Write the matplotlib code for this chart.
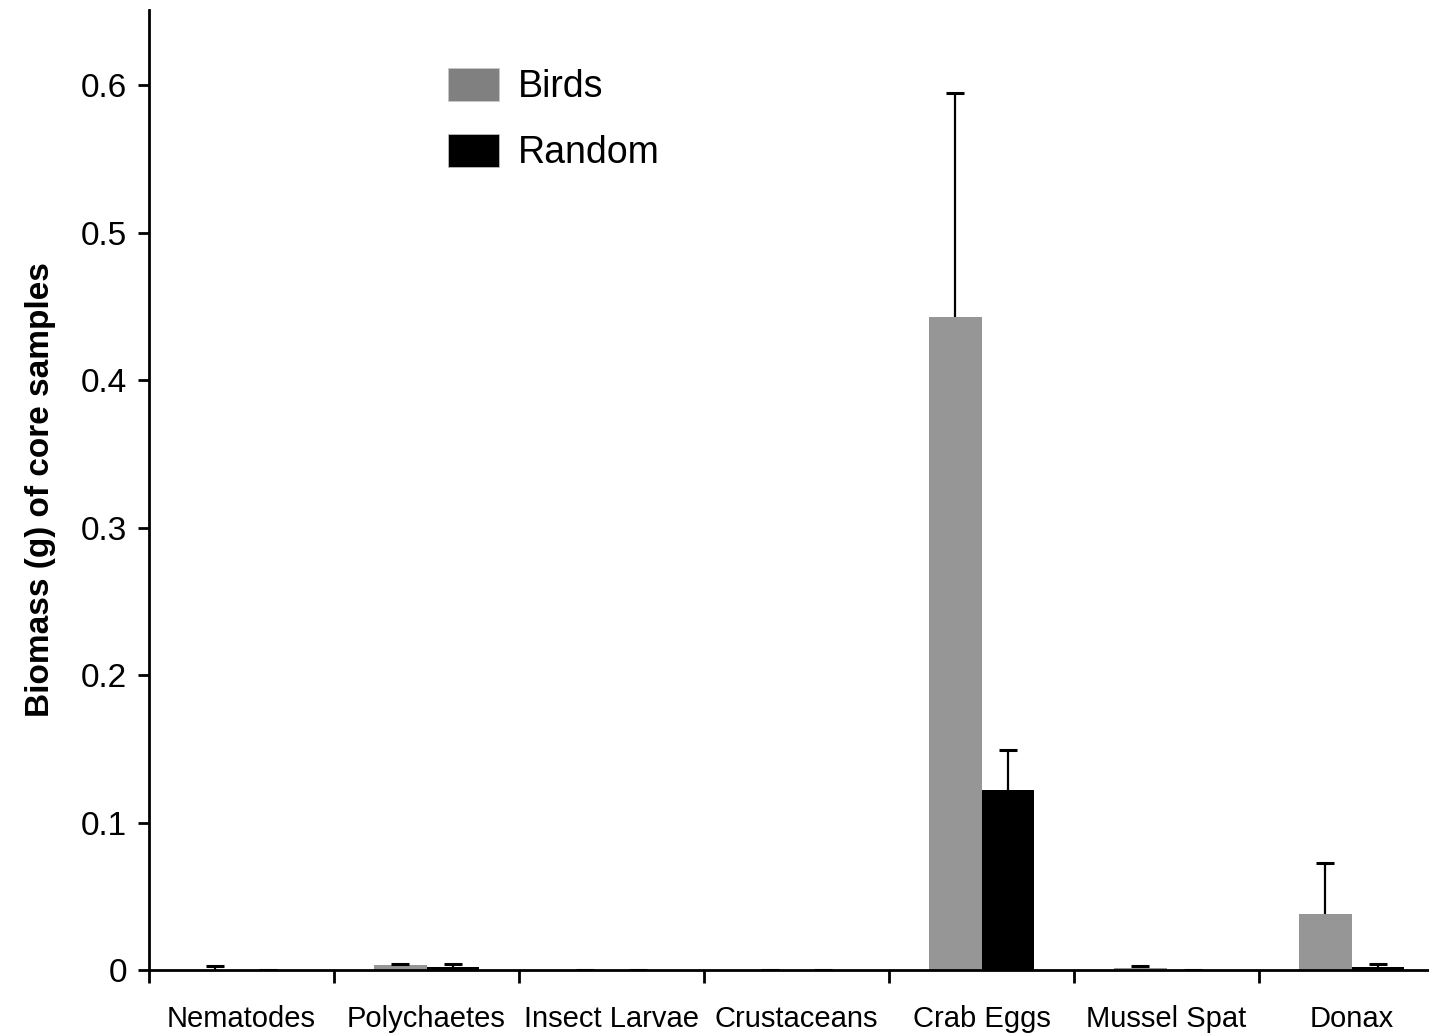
import numpy as np
import matplotlib
matplotlib.use("Agg")
import matplotlib.pyplot as plt
import matplotlib.patches as mpatches

plt.rcParams["font.family"] = ["Liberation Sans", "DejaVu Sans"]

categories = ["Nematodes", "Polychaetes", "Insect Larvae", "Crustaceans",
              "Crab Eggs", "Mussel Spat", "Donax"]
birds = [0.0, 0.0034, 0.0, 0.0, 0.443, 0.0015, 0.038]
birds_err = [0.0027, 0.0006, 0.0, 0.0, 0.152, 0.0012, 0.0345]
random_ = [0.0002, 0.002, 0.0002, 0.0002, 0.122, 0.0002, 0.002]
random_err = [0.0, 0.002, 0.0, 0.0, 0.027, 0.0, 0.002]

fig = plt.figure(figsize=(14.29, 10.34), dpi=100)
ax = fig.add_axes([149 / 1429, 64 / 1034, 1295 / 1429, 960 / 1034])

x = np.arange(len(categories))
w = 0.286
err_kw = dict(ecolor="black", elinewidth=1.6, capsize=6.5, capthick=2.2)

b1 = ax.bar(x - w / 2, birds, w, color="#969696",
            yerr=[np.zeros(len(birds)), birds_err], error_kw=err_kw)
b2 = ax.bar(x + w / 2, random_, w, color="black",
            yerr=[np.zeros(len(random_)), random_err], error_kw=err_kw)
# only the upper cap is shown
for cont in (b1, b2):
    caps = cont.errorbar[1]
    caps[0].set_visible(False)

ax.set_xlim(-0.5, len(categories) - 0.5)
ax.set_ylim(0, 0.651)
ax.set_yticks(np.arange(0, 0.61, 0.1))
ax.set_yticklabels(["0", "0.1", "0.2", "0.3", "0.4", "0.5", "0.6"], fontsize=24)

# category labels centred, ticks at group boundaries
ax.set_xticks(np.arange(-0.5, len(categories) + 0.5, 1.0))
ax.set_xticklabels([])
ax.set_xticks(x, minor=True)
ax.set_xticklabels(categories, minor=True, fontsize=21)
ax.tick_params(axis="x", which="minor", length=0, pad=25)
ax.tick_params(axis="x", which="major", length=9, width=2, direction="out")
ax.tick_params(axis="y", length=8, width=2, direction="out", pad=8)

for side in ("top", "right"):
    ax.spines[side].set_visible(False)
for side in ("left", "bottom"):
    ax.spines[side].set_linewidth(2)

ax.set_ylabel("Biomass (g) of core samples", fontsize=24, fontweight="bold",
              labelpad=18)

handles = [mpatches.Patch(facecolor="#808080", edgecolor="#c8c8c8", linewidth=0.5),
           mpatches.Patch(facecolor="black", edgecolor="#c8c8c8", linewidth=0.5)]
ax.legend(handles, ["Birds", "Random"], loc="upper left",
          bbox_to_anchor=(0.205, 0.975), frameon=False, fontsize=27,
          handlelength=1.35, handleheight=1.0, handletextpad=0.5,
          labelspacing=0.75)

fig.savefig("out.png", dpi=100)
